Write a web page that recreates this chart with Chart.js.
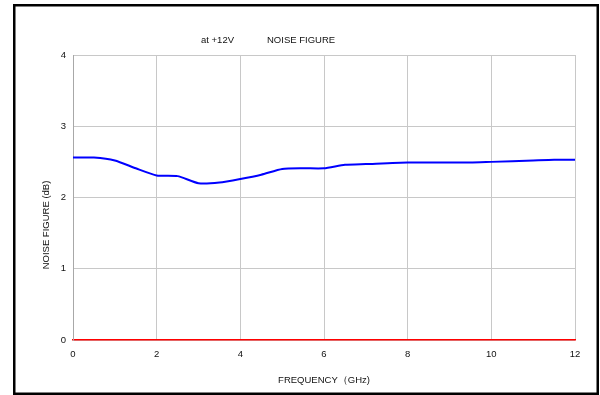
<!DOCTYPE html>
<html>
<head>
<meta charset="utf-8">
<script src="https://cdn.jsdelivr.net/npm/chart.js@4/dist/chart.umd.min.js"></script>
<style>
  html, body { margin: 0; padding: 0; background: #fff; }
  #wrap { width: 600px; height: 395px; }
</style>
</head>
<body>
<div id="wrap"><canvas id="nf-chart" width="600" height="395"></canvas></div>
<script>
// Noise figure vs frequency
var frequency = [0, 0.5, 1, 1.5, 2, 2.5, 3, 3.5, 4, 4.5, 5, 5.5, 6, 6.5, 7, 8, 9, 9.5, 10, 11, 11.5, 12];
var noiseFigure = [2.56, 2.56, 2.52, 2.41, 2.31, 2.30, 2.20, 2.21, 2.26, 2.32, 2.40, 2.41, 2.41, 2.46, 2.47, 2.49, 2.49, 2.49, 2.50, 2.52, 2.53, 2.53];
var xTicks = [0, 2, 4, 6, 8, 10, 12];
var yTicks = [0, 1, 2, 3, 4];

var titleLeft = "at +12V";
var titleRight = "NOISE FIGURE";
var xTitle = "FREQUENCY（GHz)";
var yTitle = "NOISE FIGURE (dB)";

var FONT = "'Liberation Sans', Arial, sans-serif";
var TEXT_COLOR = "#111";

// Frame + free-standing texts
var framePlugin = {
  id: "frame",
  beforeDraw: function (chart) {
    var ctx = chart.ctx;
    ctx.save();
    ctx.fillStyle = "#fff";
    ctx.fillRect(0, 0, chart.width, chart.height);
    ctx.restore();
  },
  afterDraw: function (chart) {
    var ctx = chart.ctx;
    var area = chart.chartArea;
    ctx.save();
    ctx.strokeStyle = "#000";
    ctx.lineWidth = 2.5;
    ctx.strokeRect(14.25, 5.25, 583.5, 388.5);

    ctx.fillStyle = TEXT_COLOR;
    ctx.font = "9.5px " + FONT;
    ctx.textBaseline = "middle";
    ctx.textAlign = "left";
    ctx.fillText(titleLeft, 201, 40);
    ctx.fillText(titleRight, 267, 40);

    ctx.textAlign = "center";
    ctx.fillText(xTitle, (area.left + area.right) / 2, 380);

    ctx.translate(46, 225);
    ctx.rotate(-Math.PI / 2);
    ctx.fillText(yTitle, 0, 0);
    ctx.restore();
  },
};

var points = frequency.map(function (f, i) {
  return { x: f, y: noiseFigure[i] };
});

new Chart(document.getElementById("nf-chart"), {
  type: "line",
  data: {
    datasets: [
      {
        data: points,
        borderColor: "#0000ff",
        borderWidth: 2,
        pointRadius: 0,
        fill: false,
        tension: 0.2,
      },
    ],
  },
  options: {
    responsive: false,
    animation: false,
    devicePixelRatio: 1,
    layout: { padding: { left: 0, right: 25, top: 55, bottom: 0 } },
    plugins: {
      legend: { display: false },
      tooltip: { enabled: false },
      title: { display: false },
    },
    scales: {
      x: {
        type: "linear",
        min: 0,
        max: 12,
        afterBuildTicks: function (scale) {
          scale.ticks = xTicks.map(function (v) { return { value: v }; });
        },
        afterFit: function (scale) { scale.height = 55; },
        grid: { color: "#c8c8c8", lineWidth: 1, drawTicks: false },
        border: { display: true, color: "#ff0000", width: 1.5 },
        ticks: {
          padding: 9,
          color: TEXT_COLOR,
          font: { family: FONT, size: 9.5 },
          maxRotation: 0,
          autoSkip: false,
        },
      },
      y: {
        min: 0,
        max: 4,
        afterBuildTicks: function (scale) {
          scale.ticks = yTicks.map(function (v) { return { value: v }; });
        },
        afterFit: function (scale) { scale.width = 73; },
        grid: { color: "#c8c8c8", lineWidth: 1, drawTicks: false },
        border: { display: true, color: "#a8a8a8", width: 1 },
        ticks: {
          padding: 7,
          color: TEXT_COLOR,
          font: { family: FONT, size: 9.5 },
          autoSkip: false,
        },
      },
    },
  },
  plugins: [framePlugin],
});
</script>
</body>
</html>
